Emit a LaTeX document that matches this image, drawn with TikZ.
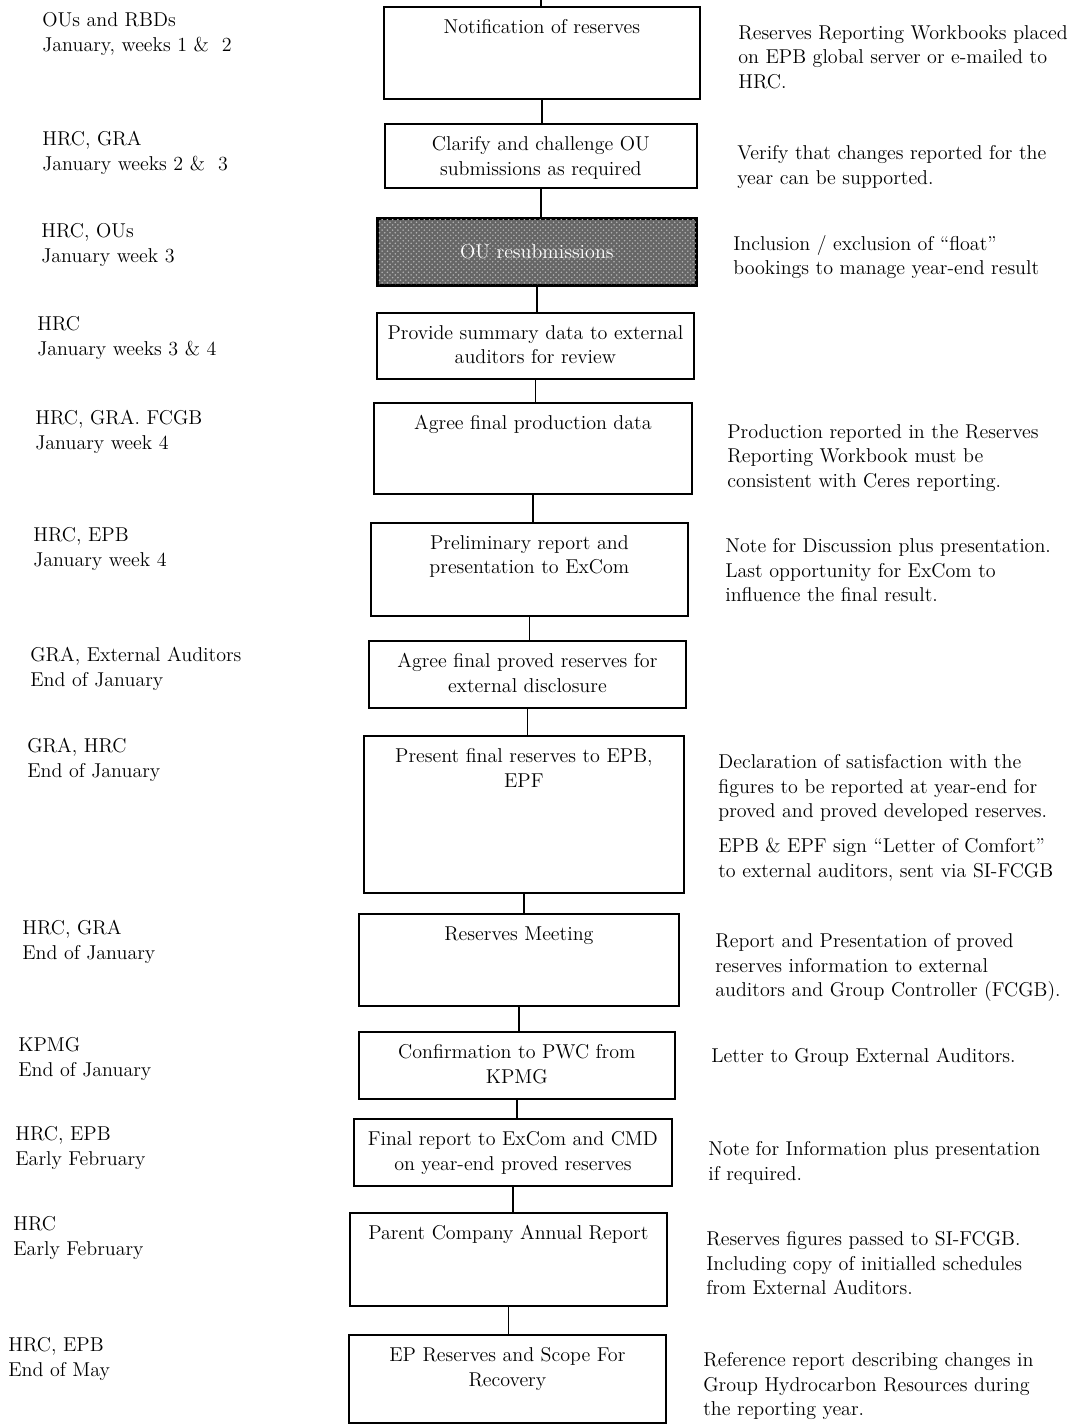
\documentclass[tikz,border=0pt]{standalone}
\usepackage{tikz}
\usetikzlibrary{calc, patterns}

% one pixel of the page
\newcommand{\pxl}{0.02cm}

% box drawn from its corners, with its text at the top
\newcommand{\stepnode}[6]{%
  \node[stepbox, minimum width={(#4-#2)*\pxl}, minimum height={(#5-#3)*\pxl}] (#1) at (#2,#3) {};
  \node[steptext] (#1-t) at ([yshift=-0.26cm]#1.north) {#6};
}

\begin{document}
\begin{tikzpicture}[
    x=0.02cm, y=-0.02cm,
    font=\fontsize{11.4}{14}\selectfont,
    stepbox/.style={draw, line width=1pt, anchor=north west, inner sep=0pt},
    steptext/.style={anchor=north, align=center, inner sep=0pt},
    who/.style={anchor=north west, align=left, inner sep=0pt},
    note/.style={anchor=north west, align=left, inner sep=0pt},
    link/.style={line width=1pt}
]
    \useasboundingbox (0,0) rectangle (1074,1424);

    % process boxes
    \stepnode{notif}{383}{6}{699}{98}{Notification of reserves}
    \stepnode{clarify}{384}{123}{696}{187}{Clarify and challenge OU\\submissions as required}
    \node[stepbox, fill=black!60, minimum width={318*\pxl}, minimum height={66*\pxl}] (resub) at (377,218) {};
    \fill[pattern=crosshatch dots, pattern color=black!30] (resub.south west) rectangle (resub.north east);
    \draw[line width=1pt] (resub.south west) rectangle (resub.north east);
    \node[text=white, inner sep=0pt] (resub-t) at (resub.center) {OU resubmissions};
    \stepnode{summary}{376}{312}{693}{378}{Provide summary data to external\\auditors for review}
    \stepnode{prod}{373}{402}{691}{493}{Agree final production data}
    \stepnode{prelim}{370}{522}{687}{615}{Preliminary report and\\presentation to ExCom}
    \stepnode{proved}{368}{640}{685}{707}{Agree final proved reserves for\\external disclosure}
    \stepnode{present}{363}{735}{683}{892}{Present final reserves to EPB,\\EPF}
    \stepnode{meeting}{358}{913}{678}{1005}{Reserves Meeting}
    \stepnode{confirm}{358}{1031}{674}{1098}{Confirmation to PWC from\\KPMG}
    \stepnode{final}{353}{1118}{671}{1185}{Final report to ExCom and CMD\\on year-end proved reserves}
    \stepnode{parent}{349}{1212}{666}{1305}{Parent Company Annual Report}
    \stepnode{scope}{348}{1334}{665}{1422}{EP Reserves and Scope For\\Recovery}

    % connectors
    \coordinate (top) at (541,0);
    \draw[link] (top) -- (top |- notif.north);
    \foreach \a/\b in {notif/clarify, clarify/resub, resub/summary, summary/prod,
                       prod/prelim, prelim/proved, proved/present, present/meeting,
                       meeting/confirm, confirm/final, final/parent, parent/scope}
        \draw[link] (\a.south) -- (\a.south |- \b.north);

    % who and when
    \node[who] (w1) at (42,12) {OUs and RBDs\\January, weeks 1 \&~ 2};
    \node[who] (w2) at (42,131) {HRC, GRA\\January weeks 2 \&~ 3};
    \node[who] (w3) at (41,223) {HRC, OUs\\January week 3};
    \node[who] (w4) at (37,316) {HRC\\January weeks 3 \& 4};
    \node[who] (w5) at (35,410) {HRC, GRA. FCGB\\January week 4};
    \node[who] (w6) at (33,527) {HRC, EPB\\January week 4};
    \node[who] (w7) at (30,647) {GRA, External Auditors\\End of January};
    \node[who] (w8) at (27,738) {GRA, HRC\\End of January};
    \node[who] (w9) at (22,920) {HRC, GRA\\End of January};
    \node[who] (w10) at (18,1037) {KPMG\\End of January};
    \node[who] (w11) at (15,1126) {HRC, EPB\\Early February};
    \node[who] (w12) at (13,1216) {HRC\\Early February};
    \node[who] (w13) at (8,1337) {HRC, EPB\\End of May};

    % remarks
    \node[note] (r1) at (738,25) {Reserves Reporting Workbooks placed\\on EPB global server or e-mailed to\\HRC.};
    \node[note] (r2) at (737,145) {Verify that changes reported for the\\year can be supported.};
    \node[note] (r3) at (733,235) {Inclusion / exclusion of ``float''\\bookings to manage year-end result};
    \node[note] (r5) at (727,424) {Production reported in the Reserves\\Reporting Workbook must be\\consistent with Ceres reporting.};
    \node[note] (r6) at (725,538) {Note for Discussion plus presentation.\\Last opportunity for ExCom to\\influence the final result.};
    \node[note] (r8) at (718,754) {Declaration of satisfaction with the\\figures to be reported at year-end for\\proved and proved developed reserves.};
    \node[note] (r8b) at (718,838) {EPB \& EPF sign ``Letter of Comfort''\\to external auditors, sent via SI-FCGB};
    \node[note] (r9) at (715,933) {Report and Presentation of proved\\reserves information to external\\auditors and Group Controller (FCGB).};
    \node[note] (r10) at (711,1048) {Letter to Group External Auditors.};
    \node[note] (r11) at (708,1141) {Note for Information plus presentation\\if required.};
    \node[note] (r12) at (706,1231) {Reserves figures passed to SI-FCGB.\\Including copy of initialled schedules\\from External Auditors.};
    \node[note] (r13) at (703,1352) {Reference report describing changes in\\Group Hydrocarbon Resources during\\the reporting year.};
\end{tikzpicture}
\end{document}
